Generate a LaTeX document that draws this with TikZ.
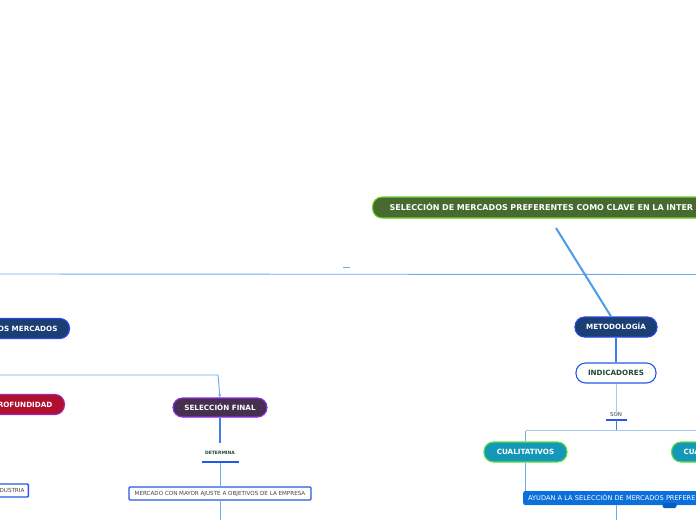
\documentclass[tikz,border=0pt]{standalone}
\usepackage{fontspec}
\setmainfont{DejaVu Sans}
\usetikzlibrary{arrows.meta}
\definecolor{navyfill}{HTML}{1B3F75}
\definecolor{navyline}{HTML}{2B48E0}
\definecolor{titlefill}{HTML}{466A2F}
\definecolor{titleline}{HTML}{72D22C}
\definecolor{tealfill}{HTML}{1497B8}
\definecolor{tealline}{HTML}{5EE03A}
\definecolor{redfill}{HTML}{B0102E}
\definecolor{purpfill}{HTML}{472F4F}
\definecolor{purpline}{HTML}{8A2EE6}
\definecolor{boxline}{HTML}{2458EA}
\definecolor{bluefill}{HTML}{0B70DC}
\definecolor{tabfill}{HTML}{0B5CC2}
\definecolor{linkdark}{HTML}{3A7EF0}
\definecolor{linklight}{HTML}{6AAAF0}
\definecolor{linkpale}{HTML}{A8C8F5}
\definecolor{linktitle}{HTML}{4F9BE8}
\definecolor{darkgreen}{HTML}{1E4A3A}
\definecolor{greytext}{HTML}{444444}
\tikzset{
  pill/.style={rounded corners=9.5pt, minimum height=20pt, inner ysep=0pt,
    font=\bfseries\fontsize{7.2}{8}\selectfont, text=white, line width=1.1pt,
    text height=5.25pt, text depth=0pt},
  navypill/.style={pill, fill=navyfill, draw=navyline},
  smallbox/.style={draw=boxline, fill=white, line width=1.3pt, minimum height=13pt,
    inner ysep=0pt, font=\fontsize{5.6}{6}\selectfont, text=greytext,
    text height=4.1pt, text depth=0pt, rounded corners=1pt},
  lbl/.style={inner sep=0pt},
  darklink/.style={draw=linkdark, line width=1.2pt},
  lightlink/.style={draw=linklight, line width=0.9pt},
  palelink/.style={draw=linkpale, line width=0.9pt},
  bar/.style={draw=boxline, line width=1.3pt}
}
\begin{document}
\begin{tikzpicture}[x=1pt,y=-1pt]
\useasboundingbox (0,0) rectangle (696,520);
\clip (0,0) rectangle (696,520);
\fill[white] (0,0) rectangle (696,520);

% long horizontal connector
\coordinate (hl) at (0,274);
\coordinate (hr) at (696,274.5);
\draw[lightlink] (hl) -- (hr);
\coordinate (dsa) at (343,267);
\coordinate (dsb) at (350,267);
\draw[draw=linklight, line width=1pt] (dsa) -- (dsb);

% title
\node[pill, fill=titlefill, draw=titleline, minimum height=21pt, anchor=west,
      text width=400pt, align=left, inner xsep=17pt, font=\bfseries\fontsize{8}{9}\selectfont]
  (title) at (372,207.5) {SELECCIÓN DE MERCADOS PREFERENTES COMO CLAVE EN LA INTER};

% right branch
\node[navypill, minimum width=82pt] (metod) at (616,327) {METODOLOGÍA};
\coordinate (tstart) at (556,228);
\draw[draw=linktitle, line width=2pt] (tstart) -- ([xshift=-5pt]metod.north);

\node[pill, fill=white, draw=boxline, text=darkgreen, minimum width=80pt] (indic) at (616,373) {INDICADORES};
\draw[darklink] (metod) -- (indic);

\node[lbl, font=\fontsize{5.5}{6}\selectfont, text=greytext] (son) at (616,414) {SON};
\coordinate (sonA) at (606,420);
\coordinate (sonB) at (627,420);
\coordinate (sonC) at (616,420);
\coordinate (sonD) at (616,430.5);
\coordinate (hjR) at (696,430.5);
\draw[palelink] (indic) -- ([yshift=-3pt]son.north);
\draw[bar] (sonA) -- (sonB);
\draw[draw=linkdark, line width=1pt] (sonC) -- (sonD);

\node[pill, fill=tealfill, draw=tealline, minimum width=83pt] (cuali) at (525.5,452) {CUALITATIVOS};
\coordinate (hjL) at (cuali.north |- sonD);
\draw[palelink] (hjL) -- (hjR);
\draw[lightlink] (hjL) -- (cuali.north);

\node[pill, fill=tealfill, draw=tealline, anchor=west, text width=80pt, align=left,
      inner xsep=12pt] (cuanti) at (671,452) {CUA};

\node[fill=bluefill, rounded corners=2pt, anchor=west, minimum height=14pt, inner ysep=0pt,
      text width=250pt, align=left, inner xsep=5pt, text=white,
      font=\fontsize{6.6}{7}\selectfont, text height=4.8pt, text depth=0pt]
  (ayudan) at (523,498) {AYUDAN A LA SELECCIÓN DE MERCADOS PREFERE};
\draw[lightlink] (cuali.south) -- (cuali.south |- ayudan.north);
\node[fill=tabfill, rounded corners=2pt, minimum width=14pt, minimum height=5pt, inner sep=0pt]
  (tab) at (669.5,505.5) {};
\coordinate (ayEnd) at (616,520);
\draw[lightlink] (ayudan.south -| ayEnd) -- (ayEnd);

% left branch
\node[navypill, anchor=east, text width=120pt, align=right, inner xsep=12pt]
  (tos) at (70,328.5) {TOS MERCADOS};
\node[pill, fill=redfill, draw=purpline!80!red, anchor=east, text width=120pt, align=right, inner xsep=12pt]
  (prof) at (65,404.5) {ROFUNDIDAD};
\node[pill, fill=purpfill, draw=purpline, minimum width=94pt, minimum height=19pt] (self) at (220,407.5) {SELECCIÓN FINAL};
\coordinate (lstart) at (0,375);
\coordinate (lbend) at (218,375);
\draw[lightlink, -{Stealth[length=3.5pt,width=3pt]}] (lstart) -- (lbend) -- (self.north);

\node[lbl, font=\bfseries\fontsize{4.5}{5}\selectfont, text=darkgreen] (det) at (220,453) {DETERMINA};
\coordinate (detA) at (202,462);
\coordinate (detB) at (239,462);
\coordinate (detC) at (220,462.5);
\coordinate (detTop) at (220,443);
\draw[darklink] (self.south) -- (detTop);
\draw[bar] (detA) -- (detB);

\node[smallbox, minimum width=182pt] (merc) at (220,493.5) {MERCADO CON MAYOR AJUSTE A OBJETIVOS DE LA EMPRESA};
\draw[lightlink] (detC) -- (merc.north);
\coordinate (mEnd) at (220,520);
\draw[lightlink] (merc.south) -- (mEnd);

\node[smallbox, anchor=east, text width=60pt, align=right, inner xsep=4pt] (ind) at (29,490.5) {DUSTRIA};
\end{tikzpicture}
\end{document}
